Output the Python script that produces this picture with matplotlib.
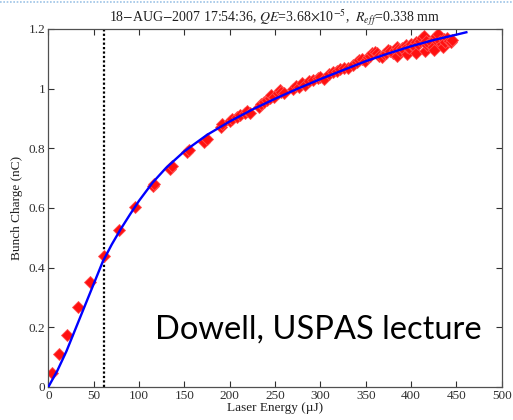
import matplotlib
matplotlib.use("Agg")
import matplotlib.pyplot as plt
from matplotlib.lines import Line2D

# ---- data ----
energy_pts = [4.4, 11.8, 20.3, 32.4, 46, 61.4, 78, 96, 115, 116, 134, 136, 153, 155,
              172, 175, 190, 192, 200, 203, 208, 211, 217, 219, 222, 232, 235, 238,
              241, 244, 246, 249, 253, 255, 257, 260, 270, 273, 276, 280, 283, 288,
              292, 297, 300, 304, 310, 314, 318, 322, 326, 330, 336, 340, 343, 346,
              349, 352, 355, 357, 360, 362, 365, 368, 370, 372, 375, 377, 380, 382,
              384, 385, 386, 388, 390, 392, 394, 395, 396, 398, 400, 402, 404, 405,
              406, 408, 410, 412, 414, 415, 416, 418, 420, 422, 424, 425, 426, 428,
              430, 432, 434, 435, 436, 438, 440, 442, 444, 445]
charge_pts = [0.048, 0.11, 0.174, 0.268, 0.352, 0.44, 0.525, 0.602, 0.674, 0.68, 0.73,
              0.742, 0.788, 0.795, 0.822, 0.83, 0.872, 0.88, 0.893, 0.898, 0.905, 0.91,
              0.918, 0.925, 0.92, 0.94, 0.948, 0.955, 0.962, 0.97, 0.978, 0.972, 0.985,
              0.995, 0.99, 0.985, 1.0, 1.01, 1.005, 1.018, 1.012, 1.025, 1.03, 1.035,
              1.04, 1.033, 1.048, 1.055, 1.06, 1.066, 1.07, 1.068, 1.08, 1.088, 1.095,
              1.1, 1.092, 1.105, 1.11, 1.118, 1.124, 1.12, 1.11, 1.105, 1.115, 1.12,
              1.128, 1.125, 1.118, 1.13, 1.14, 1.11, 1.132, 1.125, 1.135, 1.13, 1.145,
              1.115, 1.14, 1.135, 1.15, 1.142, 1.138, 1.12, 1.155, 1.148, 1.16, 1.17,
              1.178, 1.125, 1.16, 1.145, 1.15, 1.155, 1.14, 1.13, 1.165, 1.175, 1.184,
              1.16, 1.15, 1.14, 1.165, 1.155, 1.17, 1.16, 1.155, 1.162]

energy_fit = [0, 10, 20, 30, 40, 50, 60, 70, 80, 90, 100, 115, 130, 150, 175, 200, 225,
              250, 275, 300, 325, 350, 375, 400, 425, 450, 461]
charge_fit = [0, 0.055, 0.12, 0.195, 0.27, 0.345, 0.42, 0.478, 0.53, 0.578, 0.624,
              0.685, 0.735, 0.79, 0.845, 0.89, 0.93, 0.966, 1.0, 1.032, 1.062, 1.092,
              1.118, 1.142, 1.163, 1.181, 1.189]

marker_energy = 61.5

x_ticks = [0, 50, 100, 150, 200, 250, 300, 350, 400, 450, 500]
y_ticks = [0, 0.2, 0.4, 0.6, 0.8, 1.0, 1.2]
y_tick_labels = ["0", "0.2", "0.4", "0.6", "0.8", "1", "1.2"]

title = r"18$-$AUG$-$2007 17:54:36, $QE$=3.68$\times$10$^{-5}$,  $R_{eff}$=0.338 mm"
xlabel = "Laser Energy (\u00b5J)"
ylabel = "Bunch Charge (nC)"
note = "Dowell, USPAS lecture"

plt.rcParams["font.family"] = ["Liberation Serif", "DejaVu Serif"]
plt.rcParams["mathtext.fontset"] = "stix"

fig = plt.figure(figsize=(5.13, 4.2), dpi=100)
ax = fig.add_axes([0.0942, 0.0786, 0.8838, 0.8524])

ax.plot(energy_pts, charge_pts, linestyle="none", marker="D", markersize=6,
        color="#ff1010", markeredgewidth=0.6, markeredgecolor="#ff5050", zorder=2)
ax.plot(energy_fit, charge_fit, color="#0000ff", lw=1.7, zorder=3)
ax.axvline(marker_energy, color="black", lw=1.6, linestyle=(0, (1, 1)), zorder=1)

ax.set_xlim(0, 500)
ax.set_ylim(0, 1.2)
ax.set_xticks(x_ticks)
ax.set_yticks(y_ticks)
ax.set_yticklabels(y_tick_labels)
ax.tick_params(direction="in", top=True, right=True, length=4, width=0.8,
               labelsize=9.5, colors="#303030", pad=2)
for s in ax.spines.values():
    s.set_color("#505050")
    s.set_linewidth(0.9)

ax.set_xlabel(xlabel, fontsize=9.5, labelpad=0, color="#202020")
ax.set_ylabel(ylabel, fontsize=9.5, labelpad=4, color="#202020")
ax.set_title(title, fontsize=10, pad=5, color="#202020")

fig.text(155 / 513, 1 - 330 / 420, note, fontsize=23.5, family=["Lato", "DejaVu Sans"],
         ha="left", va="center", color="black")

fig.add_artist(Line2D([0, 1], [0.996, 0.996], transform=fig.transFigure,
                      color="#9dc3e6", lw=1.2, linestyle=(0, (1, 1))))

fig.savefig("out.png", dpi=100)
